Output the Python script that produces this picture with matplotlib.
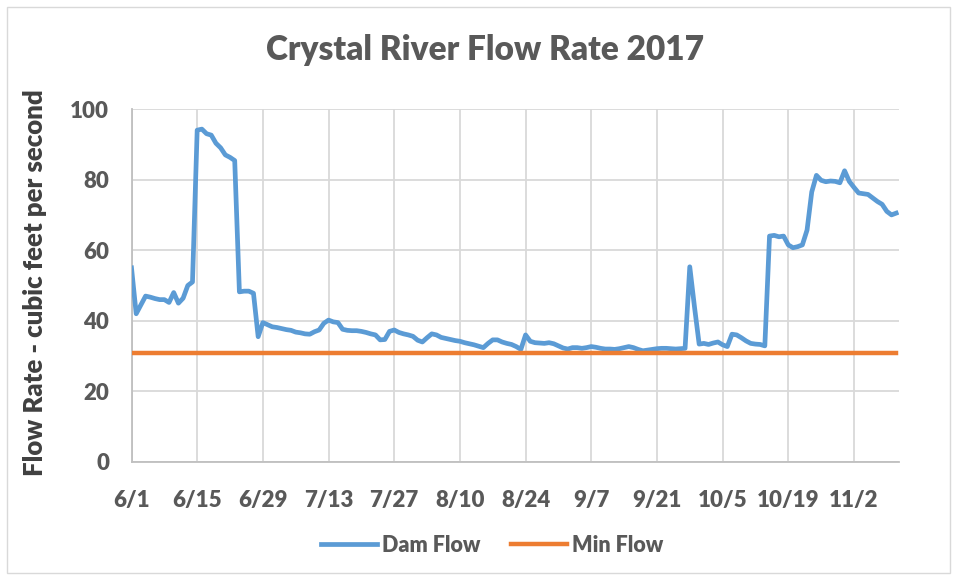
import matplotlib.pyplot as plt
from matplotlib.patches import Rectangle
import numpy as np

# daily dam flow from 6/1 to 11/11 (cfs)
dam_flow = [55.0, 42.0, 44.5, 47.0, 46.7, 46.3, 46.0, 46.0, 45.2, 48.0,
            45.0, 46.4, 50.0, 51.0, 94.0, 94.3, 93.0, 92.6, 90.3, 89.0,
            87.0, 86.3, 85.4, 48.2, 48.4, 48.4, 47.8, 35.5, 39.5, 38.9,
            38.3, 38.1, 37.8, 37.5, 37.3, 36.8, 36.6, 36.3, 36.2, 36.9,
            37.4, 39.3, 40.2, 39.7, 39.5, 37.6, 37.3, 37.2, 37.2, 37.0,
            36.7, 36.3, 36.0, 34.6, 34.7, 37.0, 37.4, 36.7, 36.3, 36.0,
            35.6, 34.5, 34.0, 35.2, 36.3, 36.0, 35.3, 35.0, 34.7, 34.4,
            34.2, 33.8, 33.5, 33.2, 32.8, 32.4, 33.6, 34.6, 34.6, 34.0,
            33.6, 33.3, 32.7, 31.9, 36.0, 34.2, 33.8, 33.7, 33.6, 33.8,
            33.5, 32.9, 32.3, 32.0, 32.4, 32.4, 32.2, 32.4, 32.7, 32.5,
            32.2, 32.0, 32.0, 31.9, 32.1, 32.4, 32.7, 32.4, 31.9, 31.5,
            31.7, 31.9, 32.1, 32.2, 32.2, 32.1, 32.0, 32.1, 32.2, 55.3,
            44.0, 33.4, 33.6, 33.3, 33.7, 34.0, 33.2, 32.7, 36.2, 36.0,
            35.2, 34.3, 33.6, 33.4, 33.3, 32.9, 64.0, 64.2, 63.8, 64.0,
            61.5, 60.7, 61.0, 61.5, 65.7, 76.5, 81.2, 79.8, 79.4, 79.6,
            79.5, 79.1, 82.5, 79.5, 77.8, 76.2, 76.0, 75.8, 74.8, 73.8,
            73.0, 71.0, 70.0, 70.5]
min_flow = 31.0

tick_days = [0, 14, 28, 42, 56, 70, 84, 98, 112, 126, 140, 154]
tick_labels = ["6/1", "6/15", "6/29", "7/13", "7/27", "8/10", "8/24",
               "9/7", "9/21", "10/5", "10/19", "11/2"]

days = np.arange(len(dam_flow))
grey = "#595959"

plt.rcParams["font.family"] = ["Lato", "DejaVu Sans"]
plt.rcParams["font.weight"] = "heavy"

fig = plt.figure(figsize=(9.57, 5.78), dpi=100)
ax = fig.add_axes([131.5 / 957, 1 - 462 / 578, (899 - 131.5) / 957, (462 - 109) / 578])

# chart border
fig.patches.append(Rectangle((7 / 957, 5 / 578), 943 / 957, 566 / 578,
                             transform=fig.transFigure, fill=False,
                             edgecolor="#d9d9d9", linewidth=1))

ax.plot(days, dam_flow, color="#5B9BD5", linewidth=3.4, label="Dam Flow",
        solid_joinstyle="round", zorder=3)
ax.plot(days, [min_flow] * len(days), color="#ED7D31", linewidth=3.2,
        label="Min Flow", zorder=3)

ax.set_xlim(0, 163.6)
ax.set_ylim(0, 100)
ax.set_xticks(tick_days)
ax.set_xticklabels(tick_labels)
ax.set_yticks(range(0, 101, 20))

ax.grid(True, color="#d9d9d9", linewidth=1.3)
ax.set_axisbelow(True)
for side in ["top", "right"]:
    ax.spines[side].set_visible(False)
for side in ["left", "bottom"]:
    ax.spines[side].set_color("#bfbfbf")
    ax.spines[side].set_linewidth(1.3)

ax.tick_params(axis="x", length=0, pad=20, labelsize=16, labelcolor=grey)
ax.tick_params(axis="y", length=0, pad=16, labelsize=16, labelcolor=grey)

fig.text(485 / 957, 1 - 50 / 578, "Crystal River Flow Rate 2017",
         ha="center", va="center", fontsize=24, fontweight="heavy", color=grey)
fig.text(35 / 957, 1 - 283 / 578, "Flow Rate - cubic feet per second",
         ha="center", va="center", rotation=90, fontsize=18.5,
         fontweight="heavy", color="#404040")

fig.legend(loc="center", bbox_to_anchor=(492 / 957, 1 - 545 / 578), ncol=2,
           frameon=False, fontsize=15.5, handlelength=2.6, handletextpad=0.25,
           columnspacing=1.4, labelcolor=grey)

fig.savefig("out.png", dpi=100)
